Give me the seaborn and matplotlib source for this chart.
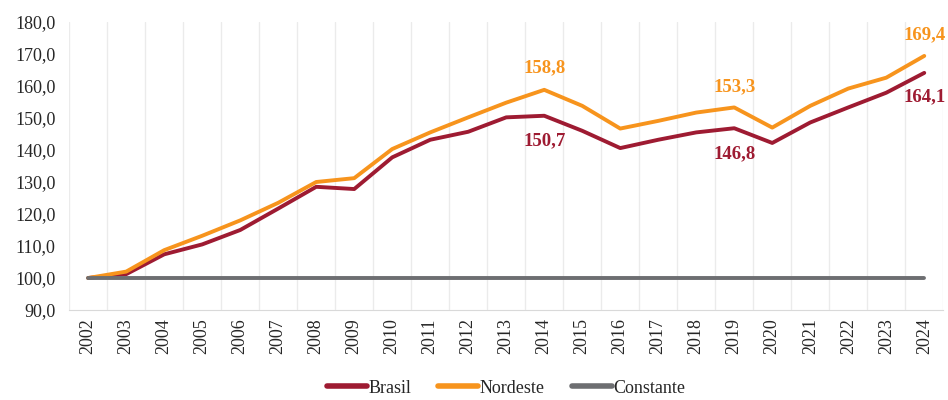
import matplotlib
matplotlib.use("Agg")
import matplotlib.pyplot as plt
import seaborn as sns
import pandas as pd

years = list(range(2002, 2025))
brasil = [100.0, 101.2, 107.4, 110.5, 115.0, 121.7, 128.5, 127.8, 137.7, 143.2, 145.7,
          150.2, 150.7, 146.0, 140.6, 143.2, 145.5, 146.8, 142.2, 148.6, 153.3, 157.9, 164.1]
nordeste = [100.0, 102.0, 108.7, 113.2, 118.0, 123.5, 130.0, 131.2, 140.3, 145.5, 150.2,
            154.8, 158.8, 153.8, 146.7, 149.1, 151.7, 153.3, 147.0, 153.8, 159.2, 162.6, 169.4]
constante = [100.0] * len(years)

# labels shown on the chart: (year, value, offset in points)
labels_nordeste = [(2014, 158.8, 16), (2019, 153.3, 15), (2024, 169.4, 15)]
labels_brasil = [(2014, 150.7, -18), (2019, 146.8, -18), (2024, 164.1, -17)]

colors = {"Brasil": "#9E1B32", "Nordeste": "#F7941D", "Constante": "#6D6E71"}

df = pd.DataFrame({"Ano": [str(y) for y in years], "Brasil": brasil,
                   "Nordeste": nordeste, "Constante": constante})
long = df.melt(id_vars="Ano", var_name="Serie", value_name="Valor")

sns.set_style("white")
plt.rcParams["font.family"] = ["Liberation Serif", "DejaVu Serif"]

fig, ax = plt.subplots(figsize=(9.48, 4), dpi=100)
fig.subplots_adjust(left=0.073, right=0.995, top=0.945, bottom=0.225)

sns.lineplot(data=long, x="Ano", y="Valor", hue="Serie", palette=colors,
             linewidth=2.8, ax=ax, sort=False)

# vertical gridlines between categories
for i in range(len(years) + 1):
    ax.axvline(i - 0.5, color="#EBEBEB", linewidth=1, zorder=0)

ax.set_xlim(-0.5, len(years) - 0.5)
ax.set_ylim(90, 180)
ax.set_yticks(range(90, 181, 10))
ax.set_yticklabels([f"{v},0" for v in range(90, 181, 10)], fontsize=13)
ax.tick_params(axis="x", labelrotation=90, labelsize=13, length=0, pad=6)
ax.tick_params(axis="y", length=0, pad=10)
ax.set_xlabel("")
ax.set_ylabel("")
for side in ["top", "right", "left"]:
    ax.spines[side].set_visible(False)
ax.spines["bottom"].set_color("#D9D9D9")

for yr, val, off in labels_nordeste:
    ax.annotate(f"{val:.1f}".replace(".", ","), (str(yr), val), xytext=(0, off),
                textcoords="offset points", ha="center", va="center",
                fontsize=13.5, fontweight="bold", color=colors["Nordeste"])
for yr, val, off in labels_brasil:
    ax.annotate(f"{val:.1f}".replace(".", ","), (str(yr), val), xytext=(0, off),
                textcoords="offset points", ha="center", va="center",
                fontsize=13.5, fontweight="bold", color=colors["Brasil"])

leg = ax.legend(loc="upper center", bbox_to_anchor=(0.5, -0.185), ncol=3, frameon=False,
                fontsize=13, handlelength=2.2, handletextpad=0.1, columnspacing=1.5)
for line in leg.get_lines():
    line.set_linewidth(4)

fig.savefig("out.png", dpi=100)
